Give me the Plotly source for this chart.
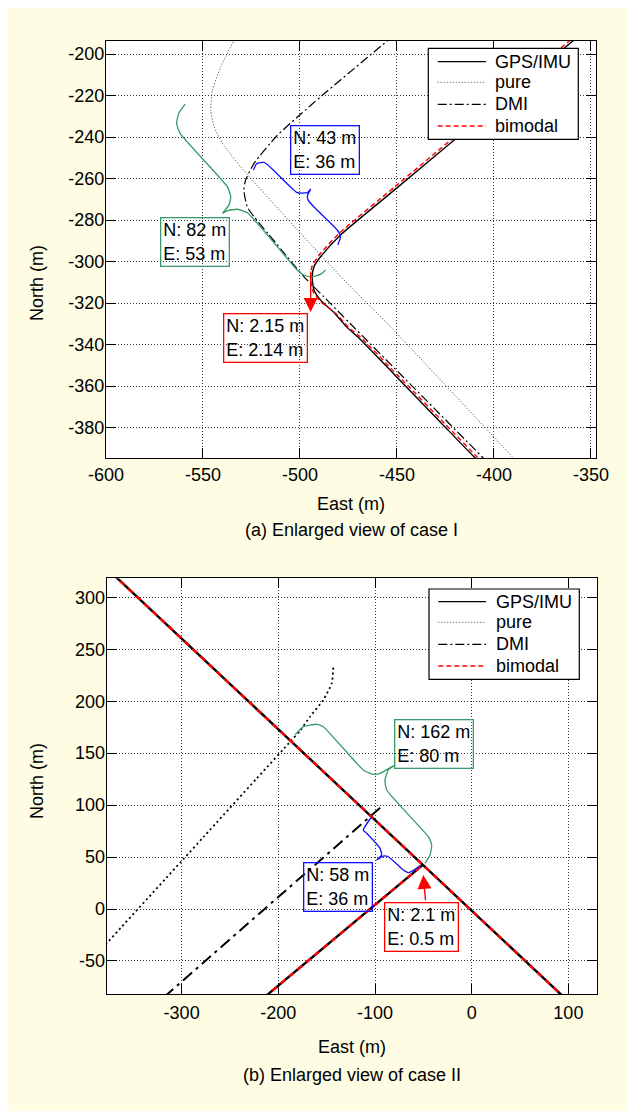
import plotly.graph_objects as go

# page body margin is 8 px; the figure fills the rest of the 635x1111 window
OFF = 8
W, H = 635 - OFF, 1111 - OFF
FONT = "Liberation Sans, Arial, sans-serif"

# ---------------- case I (enlarged view) ----------------
e1_gps = [-350.0, -419.1, -450.0, -479.1, -489.4, -492.8, -493.7, -492.8, -489.4, -482.0, -476.0, -470.0, -451.0, -427.2, -410.3, -408.0]
n1_gps = [-186.4, -240.3, -264.5, -287.2, -297.7, -302.5, -307.3, -313.7, -318.6, -325.0, -331.5, -336.5, -354.8, -377.8, -394.1, -396.0]

e1_bim = [-350.8, -419.9, -450.9, -480.0, -490.4, -493.8, -494.5, -493.5, -489.8, -481.2, -475.0, -468.8, -449.5, -425.6, -408.8, -406.6]
n1_bim = [-185.6, -239.6, -263.8, -286.6, -297.2, -302.3, -307.3, -313.9, -318.9, -325.3, -331.6, -336.5, -354.9, -377.9, -394.1, -396.0]

e1_dmi = [-445.0, -455.1, -489.4, -499.7, -512.0, -523.7, -528.0, -528.9, -527.2, -523.7, -516.5, -509.5, -498.0, -487.7, -474.0, -447.8, -406.2, -404.3]
n1_dmi = [-185.8, -193.7, -220.6, -229.0, -239.5, -252.7, -260.7, -265.5, -273.6, -278.4, -286.5, -294.5, -307.3, -317.0, -330.0, -354.7, -394.1, -396.0]

e1_pure = [-527.0, -534.0, -540.8, -545.1, -546.0, -544.3, -540.0, -530.6, -516.8, -499.7, -474.0, -453.4, -390.6, -388.8]
n1_pure = [-185.0, -193.7, -206.1, -217.3, -227.0, -235.0, -243.0, -254.3, -268.8, -286.4, -312.1, -331.4, -394.1, -396.0]

# brace marks (case I)
e1_blue = [-524.0, -522.3, -518.2, -501.4, -496.3, -494.5, -496.1, -495.8, -492.9, -480.8, -479.1, -480.5]
n1_blue = [-255.9, -252.8, -252.3, -266.8, -266.8, -265.1, -268.0, -270.4, -273.6, -284.8, -288.0, -292.0]
e1_green = [-559.2, -562.4, -563.6, -561.8, -537.4, -535.7, -536.6, -540.0, -537.4, -532.3, -527.1, -501.4, -498.0, -494.5, -489.4, -486.8]
n1_green = [-224.1, -228.4, -233.3, -238.2, -264.0, -268.8, -272.8, -276.8, -275.5, -274.8, -276.5, -304.1, -306.5, -307.3, -306.2, -304.1]

# red arrow (case I): tail -> head
e1_arrow = [-494.5, -494.5]
n1_arrow = [-304.1, -324.3]

x1_ticks = [-600, -550, -500, -450, -400, -350]
x1_text = ["-600", "-550", "-500", "-450", "-400", "-350"]
y1_ticks = [-380, -360, -340, -320, -300, -280, -260, -240, -220, -200]
y1_text = ["-380", "-360", "-340", "-320", "-300", "-280", "-260", "-240", "-220", "-200"]

# ---------------- case II (enlarged view) ----------------
e2_gps = [-380.0, -50.5, 100.0, None, -215.0, -50.5]
n2_gps = [330.1, 42.5, -88.9, None, -85.4, 42.5]
e2_bim = [-380.0, -50.5, 100.0, None, -215.0, -50.5]
n2_bim = [330.1, 42.5, -88.9, None, -85.4, 42.5]
e2_dmi = [-318.0, -91.4]
n2_dmi = [-84.6, 100.1]
e2_pure = [-382.0, -377.5, -298.2, -277.6, -222.3, -186.1, -177.6, -167.2, -153.5, -144.8, -143.1]
n2_pure = [-37.6, -33.0, 48.0, 69.1, 125.7, 162.7, 171.4, 185.1, 201.2, 217.2, 233.9]

e2_green = [-182.7, -174.1, -160.3, -153.5, -112.1, -101.8, -94.8, -79.3, -86.2, -89.7, -87.9, -44.9, -41.4, -43.1, -48.3]
n2_green = [167.6, 175.5, 177.8, 175.5, 133.8, 129.6, 130.6, 138.6, 133.8, 124.2, 114.5, 69.6, 61.6, 52.0, 44.0]
e2_blue = [-103.4, -112.1, -108.6, -94.8, -93.1, -98.2, -91.4, -86.2, -70.7, -65.6, -58.6, -53.5]
n2_blue = [88.8, 76.0, 72.9, 58.4, 52.0, 47.2, 51.0, 50.3, 37.5, 35.0, 38.2, 41.5]

e2_arrow = [-47.6, -50.1]
n2_arrow = [7.0, 32.7]

x2_ticks = [-300, -200, -100, 0, 100]
x2_text = ["-300", "-200", "-100", "0", "100"]
y2_ticks = [-50, 0, 50, 100, 150, 200, 250, 300]
y2_text = ["-50", "0", "50", "100", "150", "200", "250", "300"]

# error box labels
box1_text = ["N: 82 m<br>E: 53 m", "N: 43 m<br>E: 36 m", "N: 2.15 m<br>E: 2.14 m"]
box2_text = ["N: 162 m<br>E: 80 m", "N: 58 m<br>E: 36 m", "N: 2.1 m<br>E: 0.5 m"]
legend_names = ["GPS/IMU", "pure", "DMI", "bimodal"]

GREEN = "#3A9A6B"
BLUE = "#1010FF"
RED = "#FF0000"
BG = "#FEFDE4"


def px(x):
    """screen x (px) -> paper fraction"""
    return (x - OFF) / W


def py(y):
    """screen y (px) -> paper fraction"""
    return 1 - (y - OFF) / H


fig = go.Figure()


def add_line(x, y, xa, ya, color, width, dash="solid", shape="linear", smoothing=1.0):
    fig.add_trace(go.Scatter(
        x=x, y=y, xaxis=xa, yaxis=ya, mode="lines",
        line=dict(color=color, width=width, dash=dash, shape=shape, smoothing=smoothing),
        showlegend=False, hoverinfo="skip", connectgaps=False))


DOT1 = "1px,2px"
DASHDOT = "9px,3px,2px,3px"
DASH = "5px,3px"

# case I traces
add_line(e1_pure, n1_pure, "x", "y", "#222222", 0.9, DOT1, "spline", 0.6)
add_line(e1_dmi, n1_dmi, "x", "y", "black", 1.2, DASHDOT, "spline", 0.6)
add_line(e1_gps, n1_gps, "x", "y", "black", 1.4, "solid", "spline", 0.6)
add_line(e1_bim, n1_bim, "x", "y", RED, 1.4, DASH, "spline", 0.6)
add_line(e1_green, n1_green, "x", "y", GREEN, 1.3, "solid", "spline", 0.5)
add_line(e1_blue, n1_blue, "x", "y", BLUE, 1.3, "solid", "spline", 0.5)

# case II traces
add_line(e2_pure, n2_pure, "x2", "y2", "black", 1.8, "2px,3px", "spline", 0.6)
add_line(e2_dmi, n2_dmi, "x2", "y2", "black", 2.0, "12px,5px,3px,5px")
add_line(e2_gps, n2_gps, "x2", "y2", "black", 2.4)
add_line(e2_bim, n2_bim, "x2", "y2", RED, 2.4, "6px,5px")
add_line(e2_green, n2_green, "x2", "y2", GREEN, 1.3, "solid", "spline", 0.5)
add_line(e2_blue, n2_blue, "x2", "y2", BLUE, 1.3, "solid", "spline", 0.5)

# red arrows
for xa, ya, ex, ny in (("x", "y", e1_arrow, n1_arrow), ("x2", "y2", e2_arrow, n2_arrow)):
    fig.add_annotation(x=ex[1], y=ny[1], ax=ex[0], ay=ny[0], xref=xa, yref=ya,
                       axref=xa, ayref=ya, text="", showarrow=True, arrowhead=2,
                       arrowsize=2, arrowwidth=1.4, arrowcolor=RED, standoff=0)

# text boxes (top-left anchors in data units)
box1_pos = [(-572.1, -278.7, GREEN), (-505.3, -234.2, BLUE), (-539.7, -325.0, RED)]
box2_pos = [(-80.0, 182.9, GREEN), (-174.8, 45.5, BLUE), (-90.4, 7.0, RED)]
for (xa, ya, texts, poss) in (("x", "y", box1_text, box1_pos), ("x2", "y2", box2_text, box2_pos)):
    for t, (bx, by, c) in zip(texts, poss):
        fig.add_annotation(x=bx, y=by, xref=xa, yref=ya, text=t, showarrow=False,
                           xanchor="left", yanchor="top", align="left",
                           font=dict(family=FONT, size=18, color="black"),
                           bordercolor=c, borderwidth=1.3, borderpad=2)

# axis titles and captions
for cx, cy, t, ang in ((351, 504, "East (m)", 0), (37, 283, "North (m)", -90),
                       (351, 530, "(a) Enlarged view of case I", 0),
                       (351.7, 1046.7, "East (m)", 0), (37, 781, "North (m)", -90),
                       (351.7, 1075, "(b) Enlarged view of case II", 0)):
    fig.add_annotation(x=px(cx), y=py(cy), xref="paper", yref="paper", text=t,
                       showarrow=False, xanchor="center", yanchor="middle",
                       textangle=ang, font=dict(family=FONT, size=18, color="black"))

shapes = []

# legends (one per panel)
leg_styles = [("black", "solid", 1.3), ("#444444", DOT1, 1.0), ("black", DASHDOT, 1.3), (RED, DASH, 1.3)]
for (bx0, by0, bx1, by1, rows, lx0, lx1, tx) in (
        (428.3, 48.3, 578.3, 139.3, [61.7, 82.3, 104.3, 126.0], 437.7, 486.0, 493.3),
        (429.0, 589.0, 579.3, 679.3, [601.7, 622.3, 644.3, 666.0], 438.3, 486.0, 494.3)):
    shapes.append(dict(type="rect", xref="paper", yref="paper", x0=px(bx0), x1=px(bx1),
                       y0=py(by1), y1=py(by0), fillcolor="white",
                       line=dict(color="black", width=1.2), layer="above"))
    for name, ry, (c, d, w) in zip(legend_names, rows, leg_styles):
        shapes.append(dict(type="line", xref="paper", yref="paper", x0=px(lx0), x1=px(lx1),
                           y0=py(ry), y1=py(ry), line=dict(color=c, dash=d, width=w), layer="above"))
        fig.add_annotation(x=px(tx), y=py(ry), xref="paper", yref="paper", text=name,
                           showarrow=False, xanchor="left", yanchor="middle",
                           font=dict(family=FONT, size=18, color="black"))

axis_common = dict(showline=True, linecolor="black", linewidth=1.2, mirror="allticks",
                   ticks="inside", ticklen=10, tickwidth=1.2, tickcolor="black",
                   showgrid=True, gridcolor="#3a3a3a", gridwidth=1, griddash=DOT1,
                   zeroline=False, tickmode="array", automargin=False, fixedrange=True,
                   tickfont=dict(family=FONT, size=18, color="black"))

fig.update_layout(
    width=W, height=H, margin=dict(l=0, r=0, t=0, b=0),
    paper_bgcolor=BG, plot_bgcolor="white", template="none", showlegend=False,
    shapes=shapes,
    xaxis=dict(domain=[px(106), px(596)], range=[-600, -347.4], anchor="y",
               tickvals=x1_ticks, ticktext=x1_text, **axis_common),
    yaxis=dict(domain=[py(458), py(41)], range=[-394.7, -193.7], anchor="x",
               tickvals=y1_ticks, ticktext=y1_text, ticklabelstandoff=-3, **axis_common),
    xaxis2=dict(domain=[px(106.7), px(596.7)], range=[-377.5, 129.3], anchor="y2",
                tickvals=x2_ticks, ticktext=x2_text, ticklabelstandoff=2, **axis_common),
    yaxis2=dict(domain=[py(994), py(578.3)], range=[-81.8, 318.3], anchor="x2",
                tickvals=y2_ticks, ticktext=y2_text, ticklabelstandoff=-3, **axis_common),
)

fig.write_html("out.html")
